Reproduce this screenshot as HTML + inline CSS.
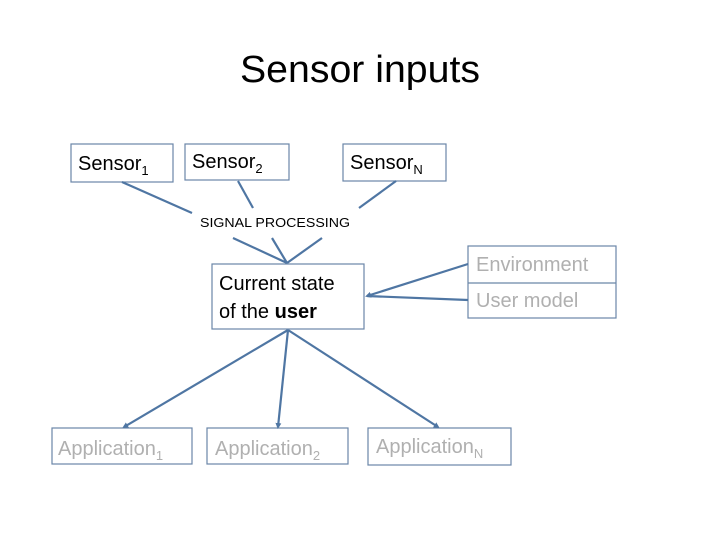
<!DOCTYPE html>
<html><head><meta charset="utf-8"><style>
html,body{margin:0;padding:0;background:#fff;}
svg{display:block;}
text{font-family:"Liberation Sans",sans-serif;}
</style></head><body>
<svg width="720" height="540" viewBox="0 0 720 540" xmlns="http://www.w3.org/2000/svg">
<defs><marker id="a" markerWidth="6" markerHeight="6" refX="4" refY="3" orient="auto" markerUnits="userSpaceOnUse"><path d="M0,0 L6,3 L0,6z" fill="#4f76a3"/></marker></defs>
<text x="360" y="82" font-size="38" text-anchor="middle" textLength="240" lengthAdjust="spacingAndGlyphs" fill="#000">Sensor inputs</text>
<g fill="#fff" stroke="#6a86a8" stroke-width="1.2">
<rect x="71" y="144" width="102" height="38"/>
<rect x="185" y="144" width="104" height="36"/>
<rect x="343" y="144" width="103" height="37"/>
<rect x="212" y="264" width="152" height="65"/>
<rect x="468" y="246" width="148" height="72"/>
<line x1="468" y1="283" x2="616" y2="283"/>
<rect x="52" y="428" width="140" height="36"/>
<rect x="207" y="428" width="141" height="36"/>
<rect x="368" y="428" width="143" height="37"/>
</g>
<g stroke="#4f76a3" stroke-width="2.2" fill="none">
<line x1="122" y1="182" x2="192" y2="213"/>
<line x1="238" y1="181" x2="253" y2="208"/>
<line x1="396" y1="181" x2="359" y2="208"/>
<line x1="233" y1="238" x2="287" y2="263"/>
<line x1="272" y1="238" x2="287" y2="263"/>
<line x1="322" y1="238" x2="287" y2="263"/>
<line x1="468" y1="264" x2="367" y2="296" marker-end="url(#a)"/>
<line x1="468" y1="300" x2="367" y2="296"/>
<line x1="288" y1="330" x2="124" y2="427" marker-end="url(#a)"/>
<line x1="288" y1="330" x2="278" y2="427" marker-end="url(#a)"/>
<line x1="288" y1="330" x2="438" y2="427" marker-end="url(#a)"/>
</g>
<g font-size="20" fill="#000">
<text x="78" y="170">Sensor<tspan font-size="13" dy="5">1</tspan></text>
<text x="192" y="168">Sensor<tspan font-size="13" dy="5">2</tspan></text>
<text x="350" y="169">Sensor<tspan font-size="13" dy="5">N</tspan></text>
<text x="219" y="290">Current state</text>
<text x="219" y="318">of the <tspan font-weight="bold">user</tspan></text>
</g>
<text x="200" y="227" font-size="13" textLength="150" lengthAdjust="spacingAndGlyphs">SIGNAL PROCESSING</text>
<g font-size="20" fill="#b0b0b0">
<text x="476" y="271">Environment</text>
<text x="476" y="307">User model</text>
<text x="58" y="455">Application<tspan font-size="13" dy="5">1</tspan></text>
<text x="215" y="455">Application<tspan font-size="13" dy="5">2</tspan></text>
<text x="376" y="453">Application<tspan font-size="13" dy="5">N</tspan></text>
</g>
</svg>
</body></html>
